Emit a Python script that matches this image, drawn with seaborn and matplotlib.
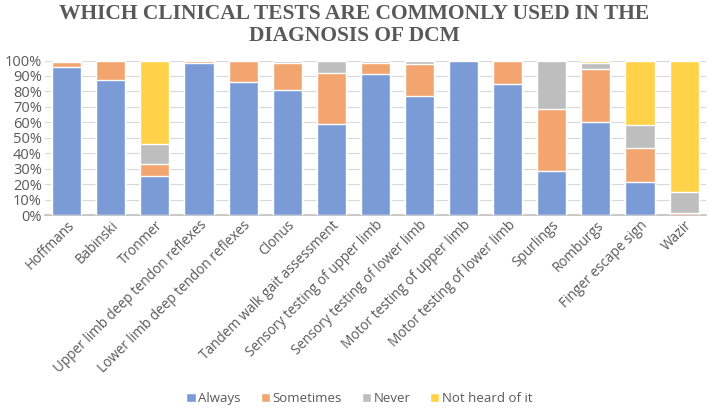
import numpy as np
import pandas as pd
import matplotlib.pyplot as plt
import seaborn as sns
from matplotlib.patches import Patch

# DATA (percent of respondents)
tests = [
    "Hoffmans", "Babinski", "Tronmer", "Upper limb deep tendon reflexes",
    "Lower limb deep tendon reflexes", "Clonus", "Tandem walk gait assessment",
    "Sensory testing of upper limb", "Sensory testing of lower limb",
    "Motor testing of upper limb", "Motor testing of lower limb",
    "Spurlings", "Romburgs", "Finger escape sign", "Wazir",
]
always = [95.7, 87.5, 25.5, 98.7, 86.4, 81.0, 59.2, 91.1, 77.1, 100.0, 84.7, 28.3, 60.0, 21.6, 0.0]
sometimes = [3.6, 12.3, 7.5, 1.3, 13.4, 17.7, 32.6, 7.6, 20.5, 0.0, 15.3, 40.2, 34.6, 21.8, 1.3]
never = [0.0, 0.2, 13.0, 0.0, 0.2, 1.3, 7.6, 1.3, 2.4, 0.0, 0.0, 30.9, 4.1, 14.7, 13.8]
not_heard = [0.7, 0.0, 54.0, 0.0, 0.0, 0.0, 0.6, 0.0, 0.0, 0.0, 0.0, 0.6, 1.3, 41.9, 84.9]

series = ["Always", "Sometimes", "Never", "Not heard of it"]
colors = ["#7a9bd6", "#f2a56f", "#bebebe", "#ffd24a"]

df = pd.DataFrame({
    "test": tests,
    "Always": always,
    "Sometimes": sometimes,
    "Never": never,
    "Not heard of it": not_heard,
})

# cumulative tops, drawn from the tallest layer down so each one overlays the last
cum = df[series].cumsum(axis=1) / 100.0

sns.set_style("white")
fig = plt.figure(figsize=(7.09, 4.09), dpi=100)
ax = fig.add_axes([0.063, 0.474, 0.933, 0.378])

for name, col in reversed(list(zip(series, colors))):
    sns.barplot(x=df["test"], y=cum[name], color=col, width=0.66,
                saturation=1, ax=ax, zorder=3)

ax.set_ylim(0, 1)
ax.set_xlim(-0.5, len(tests) - 0.5)
ax.set_yticks(np.arange(0, 1.01, 0.1))
ax.set_yticklabels([f"{int(round(v * 100))}%" for v in np.arange(0, 1.01, 0.1)],
                   fontsize=10.5, color="#595959", family="Open Sans")
ax.yaxis.grid(True, color="#d9d9d9", linewidth=0.8, zorder=0)
ax.set_xlabel("")
ax.set_ylabel("")
ax.tick_params(axis="both", length=0, pad=2)
ax.set_xticks(range(len(tests)))
ax.set_xticklabels(tests, rotation=45, ha="right", rotation_mode="anchor",
                   fontsize=9.8, color="#595959", family="Open Sans")
for side in ["top", "right", "left"]:
    ax.spines[side].set_visible(False)
ax.spines["bottom"].set_color("#bfbfbf")
ax.spines["bottom"].set_linewidth(1.2)

fig.suptitle("WHICH CLINICAL TESTS ARE COMMONLY USED IN THE\nDIAGNOSIS OF DCM",
             x=0.5, y=0.99, fontsize=15.5, fontweight="bold", color="#595959",
             family="Liberation Serif", linespacing=1.12)

handles = [Patch(facecolor=c, label=s) for s, c in zip(series, colors)]
fig.legend(handles=handles, loc="lower center", bbox_to_anchor=(0.507, -0.02),
           ncol=4, frameon=False, handlelength=0.7, handleheight=0.7,
           handletextpad=0.2, columnspacing=1.5,
           prop={"family": "Open Sans", "size": 9.5},
           labelcolor="#595959")

fig.savefig("out.png", dpi=100)
